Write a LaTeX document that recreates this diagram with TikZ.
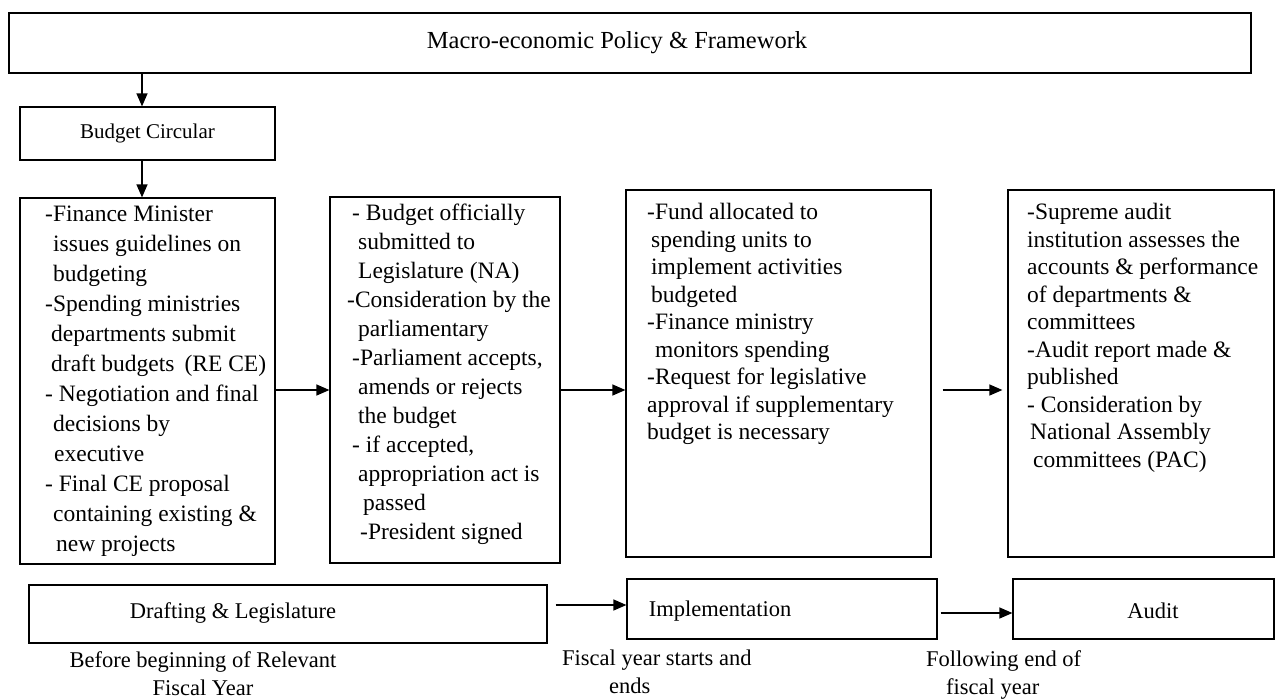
\documentclass[tikz,border=0pt]{standalone}
\usepackage{fontspec}
\setmainfont{Liberation Serif}
\usetikzlibrary{arrows.meta}
\tikzset{
  box/.style={draw, line width=1.2pt, rectangle, inner sep=0pt},
  arr/.style={line width=1.2pt, -{Triangle[length=13pt,width=11pt]}},
  txt/.style={inner sep=0pt, anchor=north west, align=left},
  bodyA/.style={font=\fontsize{23.5}{30}\selectfont},
  bodyB/.style={font=\fontsize{23.5}{29}\selectfont},
  bodyC/.style={font=\fontsize{23.5}{27.5}\selectfont},
  lbl/.style={inner sep=0pt, font=\fontsize{22.5}{28}\selectfont},
}
\newcommand{\ind}[1]{\hspace*{#1pt}}
\begin{document}
\begin{tikzpicture}[x=1pt,y=-1pt]
\useasboundingbox (0,0) rectangle (1278,699);
% boxes
\node[box, minimum width=1242pt, minimum height=60pt] (top) at (630,43) {};
\node[lbl, font=\fontsize{24.5}{30}\selectfont] (toptxt) at (617,43) {Macro-economic Policy \& Framework};
\node[box, minimum width=255pt, minimum height=53pt, font=\fontsize{21}{26}\selectfont] (bc) at (147.5,133.5) {Budget Circular};
\node[box, minimum width=255pt, minimum height=366pt] (b1) at (147.5,381) {};
\node[box, minimum width=230pt, minimum height=366pt] (b2) at (445,380) {};
\node[box, minimum width=305pt, minimum height=367pt] (b3) at (778.5,373.5) {};
\node[box, minimum width=266pt, minimum height=367pt] (b4) at (1141,373.5) {};
\node[box, minimum width=518pt, minimum height=58pt] (dl) at (288,614) {};
\node[box, minimum width=310pt, minimum height=60pt] (im) at (782,609) {};
\node[box, minimum width=261pt, minimum height=60pt] (au) at (1143.5,609) {};
% box texts
\node[txt, bodyA] (t1) at (45,206) {-Finance Minister\\
\ind{8}issues guidelines on\\
\ind{8}budgeting\\
-Spending ministries\\
\ind{6}departments submit\\
\ind{6}draft budgets\ind{10}(RE CE)\\
- Negotiation and final\\
\ind{8}decisions by\\
\ind{9}executive\\
- Final CE proposal\\
\ind{8}containing existing \&\\
\ind{11}new projects};
\node[txt, bodyB] (t2) at (347,204) {\ind{5}- Budget officially\\
\ind{11}submitted to\\
\ind{11}Legislature (NA)\\
-Consideration by the\\
\ind{11}parliamentary\\
\ind{5}-Parliament accepts,\\
\ind{11}amends or rejects\\
\ind{11}the budget\\
\ind{5}- if accepted,\\
\ind{11}appropriation act is\\
\ind{16}passed\\
\ind{13}-President signed};
\node[txt, bodyC] (t3) at (647,203) {-Fund allocated to\\
\ind{4}spending units to\\
\ind{4}implement activities\\
\ind{4}budgeted\\
-Finance ministry\\
\ind{8}monitors spending\\
-Request for legislative\\
approval if supplementary\\
budget is necessary};
\node[txt, bodyC] (t4) at (1027,203) {-Supreme audit\\
institution assesses the\\
accounts \& performance\\
of departments \&\\
committees\\
-Audit report made \&\\
published\\
- Consideration by\\
\ind{3}National Assembly\\
\ind{6}committees (PAC)};
% bottom box labels
\node[lbl] (dltxt) at (233,613) {Drafting \& Legislature};
\node[lbl] (imtxt) at (720,611) {Implementation};
\node[lbl] (autxt) at (1153,611) {Audit};
% captions
\node[lbl, align=center] (c1) at (203,674) {Before beginning of Relevant\\Fiscal Year};
\node[lbl, align=left, anchor=north west] (c2) at (562,650) {Fiscal year starts and\\\ind{47}ends};
\node[lbl, align=left, anchor=north west] (c3) at (926,650) {Following end of\\\ind{20}fiscal year};
% connectors
\coordinate (xa) at (142,0);
\coordinate (ya) at (0,390);
\coordinate (yb) at (0,605);
\coordinate (yc) at (0,613);
\draw[arr] (top.south -| xa) -- (bc.north -| xa);
\draw[arr] (bc.south -| xa) -- (b1.north -| xa);
\draw[arr] (b1.east |- ya) -- (b2.west |- ya);
\draw[arr] (b2.east |- ya) -- (b3.west |- ya);
\draw[arr, shorten <=11pt, shorten >=5pt] (b3.east |- ya) -- (b4.west |- ya);
\draw[arr, shorten <=8pt] (dl.east |- yb) -- (im.west |- yb);
\draw[arr, shorten <=3pt] (im.east |- yc) -- (au.west |- yc);
\end{tikzpicture}
\end{document}
